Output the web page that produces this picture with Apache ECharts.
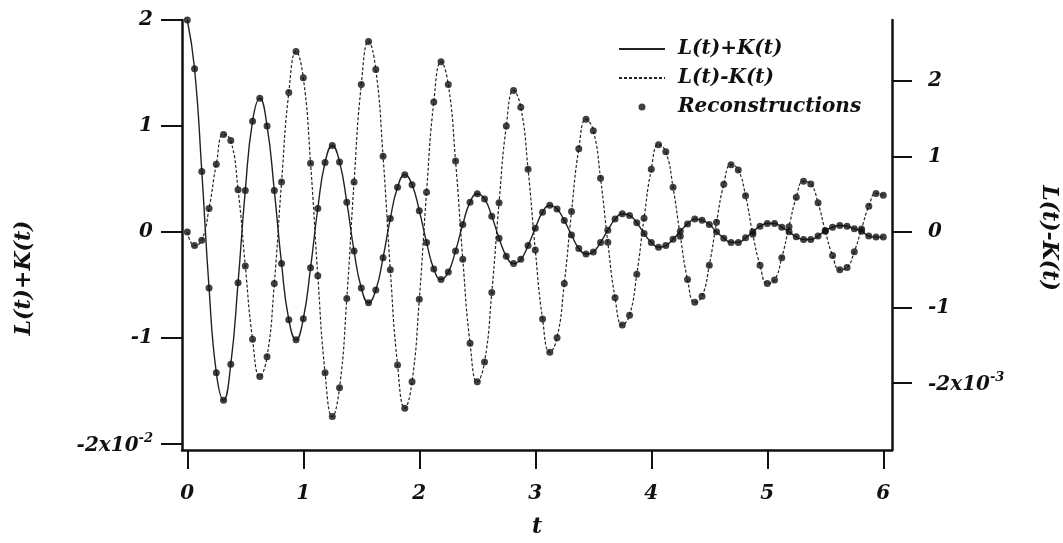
<!DOCTYPE html>
<html>
<head>
<meta charset="utf-8">
<script src="https://cdn.jsdelivr.net/npm/echarts@6/dist/echarts.min.js"></script>
<style>
  html, body { margin: 0; padding: 0; background: #fff; }
  #chart { width: 1063px; height: 543px; }
</style>
</head>
<body>
<div id="chart"></div>
<script>
// sample times t
var tVals = [
  0, 0.0625, 0.125, 0.1875, 0.25, 0.3125, 0.375, 0.4375,
  0.5, 0.5625, 0.625, 0.6875, 0.75, 0.8125, 0.875, 0.9375,
  1, 1.0625, 1.125, 1.1875, 1.25, 1.3125, 1.375, 1.4375,
  1.5, 1.5625, 1.625, 1.6875, 1.75, 1.8125, 1.875, 1.9375,
  2, 2.0625, 2.125, 2.1875, 2.25, 2.3125, 2.375, 2.4375,
  2.5, 2.5625, 2.625, 2.6875, 2.75, 2.8125, 2.875, 2.9375,
  3, 3.0625, 3.125, 3.1875, 3.25, 3.3125, 3.375, 3.4375,
  3.5, 3.5625, 3.625, 3.6875, 3.75, 3.8125, 3.875, 3.9375,
  4, 4.0625, 4.125, 4.1875, 4.25, 4.3125, 4.375, 4.4375,
  4.5, 4.5625, 4.625, 4.6875, 4.75, 4.8125, 4.875, 4.9375,
  5, 5.0625, 5.125, 5.1875, 5.25, 5.3125, 5.375, 5.4375,
  5.5, 5.5625, 5.625, 5.6875, 5.75, 5.8125, 5.875, 5.9375,
  6
];

// L(t)+K(t), left axis, units of 1e-2
var sumVals = [
  2.00, 1.54, 0.57, -0.53, -1.33, -1.59, -1.25, -0.48,
  0.39, 1.045, 1.26, 1.00, 0.39, -0.30, -0.83, -1.02,
  -0.82, -0.34, 0.22, 0.655, 0.815, 0.66, 0.28, -0.18,
  -0.53, -0.67, -0.55, -0.245, 0.125, 0.42, 0.54, 0.445,
  0.20, -0.10, -0.35, -0.45, -0.38, -0.18, 0.07, 0.28,
  0.36, 0.31, 0.147, -0.06, -0.23, -0.30, -0.26, -0.13,
  0.034, 0.185, 0.25, 0.215, 0.106, -0.03, -0.157, -0.21,
  -0.19, -0.10, 0.015, 0.12, 0.17, 0.155, 0.085, -0.015,
  -0.10, -0.145, -0.13, -0.07, 0.005, 0.075, 0.12, 0.11,
  0.07, 0.0, -0.06, -0.10, -0.10, -0.056, 0.0, 0.053,
  0.078, 0.078, 0.043, 0.0, -0.047, -0.072, -0.072, -0.04,
  0.012, 0.043, 0.06, 0.053, 0.03, 0.006, -0.04, -0.05,
  -0.05
];

// L(t)-K(t), right axis, units of 1e-3
var diffVals = [
  0.0, -0.18, -0.11, 0.31, 0.895, 1.29, 1.21, 0.56,
  -0.45, -1.42, -1.91, -1.65, -0.68, 0.66, 1.845, 2.385,
  2.04, 0.91, -0.58, -1.86, -2.44, -2.06, -0.88, 0.66,
  1.95, 2.52, 2.15, 1.0, -0.50, -1.76, -2.33, -1.98,
  -0.89, 0.525, 1.72, 2.25, 1.95, 0.94, -0.36, -1.47,
  -1.98, -1.72, -0.80, 0.385, 1.40, 1.87, 1.65, 0.83,
  -0.24, -1.15, -1.59, -1.40, -0.68, 0.27, 1.10, 1.49,
  1.34, 0.71, -0.135, -0.87, -1.23, -1.10, -0.56, 0.18,
  0.83, 1.155, 1.06, 0.59, -0.055, -0.63, -0.93, -0.85,
  -0.44, 0.13, 0.63, 0.89, 0.82, 0.48, -0.03, -0.44,
  -0.68, -0.635, -0.34, 0.07, 0.46, 0.67, 0.635, 0.385,
  0.01, -0.31, -0.50, -0.47, -0.26, 0.04, 0.34, 0.51,
  0.485
];

var xTicks = [0, 1, 2, 3, 4, 5, 6];
var leftTicks = [-2, -1, 0, 1, 2];
var rightTicks = [-2, -1, 0, 1, 2];

var FONT = 'DejaVu Serif';
var ink = '#111';

function pairs(ys) {
  return tVals.map(function (t, i) { return [t, ys[i]]; });
}

var labelStyle = {
  fontFamily: FONT, fontWeight: 'bold', fontStyle: 'italic', fontSize: 20, color: ink
};
var rich = {
  a: { fontFamily: FONT, fontWeight: 'bold', fontStyle: 'italic', fontSize: 20, color: ink, verticalAlign: 'bottom' },
  s: { fontFamily: FONT, fontWeight: 'bold', fontStyle: 'italic', fontSize: 13, color: ink, verticalAlign: 'bottom', padding: [0, 0, 11, 0] }
};
var titleStyle = { fontFamily: FONT, fontWeight: 'bold', fontStyle: 'italic', fontSize: 22, fill: ink, align: 'center', verticalAlign: 'middle' };

var option = {
  animation: false,
  backgroundColor: '#fff',
  grid: { left: 182, right: 171, top: 20, bottom: 92 },
  legend: {
    orient: 'vertical',
    left: 613,
    top: 34,
    itemWidth: 46,
    itemHeight: 7,
    itemGap: 9,
    selectedMode: false,
    textStyle: { fontFamily: FONT, fontWeight: 'bold', fontStyle: 'italic', fontSize: 20, color: ink, padding: [0, 0, 0, 8] },
    data: [
      { name: 'L(t)+K(t)', itemStyle: { opacity: 0 } },
      { name: 'L(t)-K(t)', itemStyle: { opacity: 0 } },
      { name: 'Reconstructions' }
    ]
  },
  xAxis: {
    type: 'value',
    min: -0.0457,
    max: 6.075,
    name: 't',
    nameLocation: 'middle',
    nameGap: 66,
    nameTextStyle: { fontFamily: FONT, fontWeight: 'bold', fontStyle: 'italic', fontSize: 22, color: ink },
    axisLine: { onZero: false, lineStyle: { color: ink, width: 2.5 } },
    axisTick: { customValues: xTicks, length: 19, lineStyle: { color: ink, width: 2 } },
    axisLabel: Object.assign({ customValues: xTicks, margin: 34 }, labelStyle),
    splitLine: { show: false }
  },
  yAxis: [{
    type: 'value',
    position: 'left',
    min: -2.06,
    max: 2,
    axisLine: { show: true, onZero: false, lineStyle: { color: ink, width: 2.5 } },
    axisTick: { show: true, customValues: leftTicks, length: 21, lineStyle: { color: ink, width: 2 } },
    axisLabel: Object.assign({
      customValues: leftTicks, margin: 29, rich: rich,
      formatter: function (v) { return v === -2 ? '{a|-2x10}{s|-2}' : '{a|' + v + '}'; }
    }, labelStyle),
    splitLine: { show: false }
  }, {
    type: 'value',
    position: 'right',
    min: -2.883,
    max: 2.803,
    axisLine: { show: true, onZero: false, lineStyle: { color: ink, width: 2.5 } },
    axisTick: { show: true, customValues: rightTicks, length: 20, lineStyle: { color: ink, width: 2 } },
    axisLabel: Object.assign({
      customValues: rightTicks, margin: 36, rich: rich,
      formatter: function (v) { return v === -2 ? '{a|-2x10}{s|-3}' : '{a|' + v + '}'; }
    }, labelStyle),
    splitLine: { show: false }
  }],
  graphic: [{
    type: 'text', x: 24, y: 278, rotation: Math.PI / 2,
    style: Object.assign({ text: 'L(t)+K(t)' }, titleStyle)
  }, {
    type: 'text', x: 1049, y: 238, rotation: -Math.PI / 2,
    style: Object.assign({ text: 'L(t)-K(t)' }, titleStyle)
  }],
  series: [{
    name: 'L(t)+K(t)',
    type: 'line',
    yAxisIndex: 0,
    smooth: true,
    symbol: 'none',
    lineStyle: { color: '#222', width: 1.4 },
    itemStyle: { color: '#222' },
    data: pairs(sumVals),
    z: 2
  }, {
    name: 'L(t)-K(t)',
    type: 'line',
    yAxisIndex: 1,
    smooth: true,
    symbol: 'none',
    lineStyle: { color: '#222', width: 1.2, type: [3, 2] },
    itemStyle: { color: '#222' },
    data: pairs(diffVals),
    z: 2
  }, {
    name: 'Reconstructions',
    type: 'scatter',
    yAxisIndex: 0,
    symbol: 'circle',
    symbolSize: 7,
    itemStyle: { color: ink },
    data: pairs(sumVals),
    z: 3
  }, {
    name: 'Reconstructions',
    type: 'scatter',
    yAxisIndex: 1,
    symbol: 'circle',
    symbolSize: 7,
    itemStyle: { color: ink },
    data: pairs(diffVals),
    z: 3
  }]
};

echarts.init(document.getElementById('chart')).setOption(option);
</script>
</body>
</html>
